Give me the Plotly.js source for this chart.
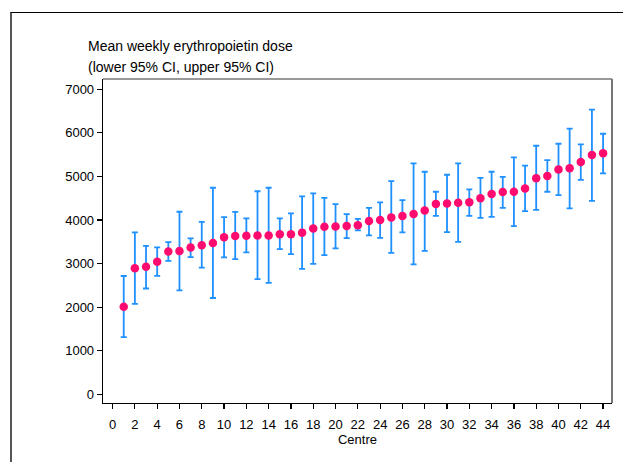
<!DOCTYPE html>
<html>
<head>
<meta charset="utf-8">
<script src="https://cdn.plot.ly/plotly-3.0.1.min.js"></script>
<style>
  html, body { margin: 0; padding: 0; background: #fff; }
  #frame { position: absolute; left: 10px; top: 12px; width: 700px; height: 500px;
           border-top: 1.5px solid #000; border-left: 2px solid #555; }
  #chart { position: absolute; left: 0; top: 0; width: 623px; height: 462px; }
</style>
</head>
<body>
<div id="frame"></div>
<div id="chart"></div>
<script>
const centre = [1,2,3,4,5,6,7,8,9,10,11,12,13,14,15,16,17,18,19,20,21,22,23,24,25,26,27,28,29,30,31,32,33,34,35,36,37,38,39,40,41,42,43,44];
const meanDose = [2010,2890,2925,3040,3275,3290,3370,3420,3470,3605,3635,3640,3645,3645,3675,3675,3710,3805,3845,3850,3860,3880,3975,4000,4060,4090,4140,4220,4370,4380,4395,4405,4500,4595,4640,4650,4725,4960,5010,5160,5190,5330,5490,5530];
const lowerCI = [1310,2075,2428,2718,3063,2385,3147,2905,2210,3140,3100,3255,2642,2557,3331,3216,2879,2993,3193,3347,3584,3760,3645,3591,3246,3715,2980,3292,4096,3721,3499,4096,4050,4073,4280,3859,4204,4234,4648,4572,4266,4923,4441,5070];
const upperCI = [2715,3714,3408,3370,3492,4189,3576,3959,4740,4066,4185,4036,4660,4740,4036,4151,4541,4610,4510,4365,4135,4027,4280,4404,4893,4457,5300,5107,4648,5038,5300,4702,4969,5107,4992,5437,5246,5704,5376,5750,6095,5736,6531,5980];
const xTicks = [0,2,4,6,8,10,12,14,16,18,20,22,24,26,28,30,32,34,36,38,40,42,44];
const yTicks = [0,1000,2000,3000,4000,5000,6000,7000];
const titleLines = ['Mean weekly erythropoietin dose', '(lower 95% CI, upper 95% CI)'];

const errPlus = upperCI.map((u, i) => u - meanDose[i]);
const errMinus = lowerCI.map((l, i) => meanDose[i] - l);

const trace = {
  type: 'scatter', mode: 'markers',
  x: centre, y: meanDose,
  marker: { color: '#FF0A6E', size: 8.5 },
  error_y: { type: 'data', symmetric: false, array: errPlus, arrayminus: errMinus,
             color: '#1E90FF', thickness: 1.8, width: 3 },
  hoverinfo: 'none'
};

const font = { family: 'Liberation Sans, Arial, sans-serif', color: '#000' };

const layout = {
  width: 623, height: 462,
  margin: { l: 103, r: 11, t: 79, b: 59, pad: 0 },
  paper_bgcolor: 'rgba(0,0,0,0)', plot_bgcolor: 'rgba(0,0,0,0)',
  showlegend: false,
  font: Object.assign({ size: 13 }, font),
  xaxis: {
    range: [-0.86, 44.8], tickvals: xTicks, ticktext: xTicks.map(String),
    showgrid: false, zeroline: false, showline: true, linecolor: '#000', linewidth: 1.3,
    ticks: 'outside', ticklen: 5, tickwidth: 1.2, tickcolor: '#000',
    ticklabelstandoff: 4,
    tickfont: Object.assign({ size: 13 }, font),
    title: { text: 'Centre', font: Object.assign({ size: 13 }, font), standoff: 0 }
  },
  yaxis: {
    range: [-200, 7236], tickvals: yTicks, ticktext: yTicks.map(String),
    showgrid: false, zeroline: false, showline: true, linecolor: '#000', linewidth: 1.3,
    ticks: 'outside', ticklen: 5, tickwidth: 1.2, tickcolor: '#000',
    tickfont: Object.assign({ size: 13 }, font)
  },
  shapes: [
    { type: 'line', xref: 'paper', yref: 'paper', x0: 0, x1: 1, y0: 1, y1: 1,
      line: { color: '#777', width: 1.5 } },
    { type: 'line', xref: 'paper', yref: 'paper', x0: 1, x1: 1, y0: 0, y1: 1,
      line: { color: '#777', width: 2 } }
  ],
  annotations: [
    { xref: 'paper', yref: 'paper', x: -0.033, y: 1.1019, xanchor: 'left', yanchor: 'middle',
      showarrow: false, align: 'left', text: titleLines[0],
      font: Object.assign({ size: 14 }, font) },
    { xref: 'paper', yref: 'paper', x: -0.033, y: 1.037, xanchor: 'left', yanchor: 'middle',
      showarrow: false, align: 'left', text: titleLines[1],
      font: Object.assign({ size: 14 }, font) }
  ]
};

Plotly.newPlot('chart', [trace], layout, { displayModeBar: false, staticPlot: true });
</script>
</body>
</html>
